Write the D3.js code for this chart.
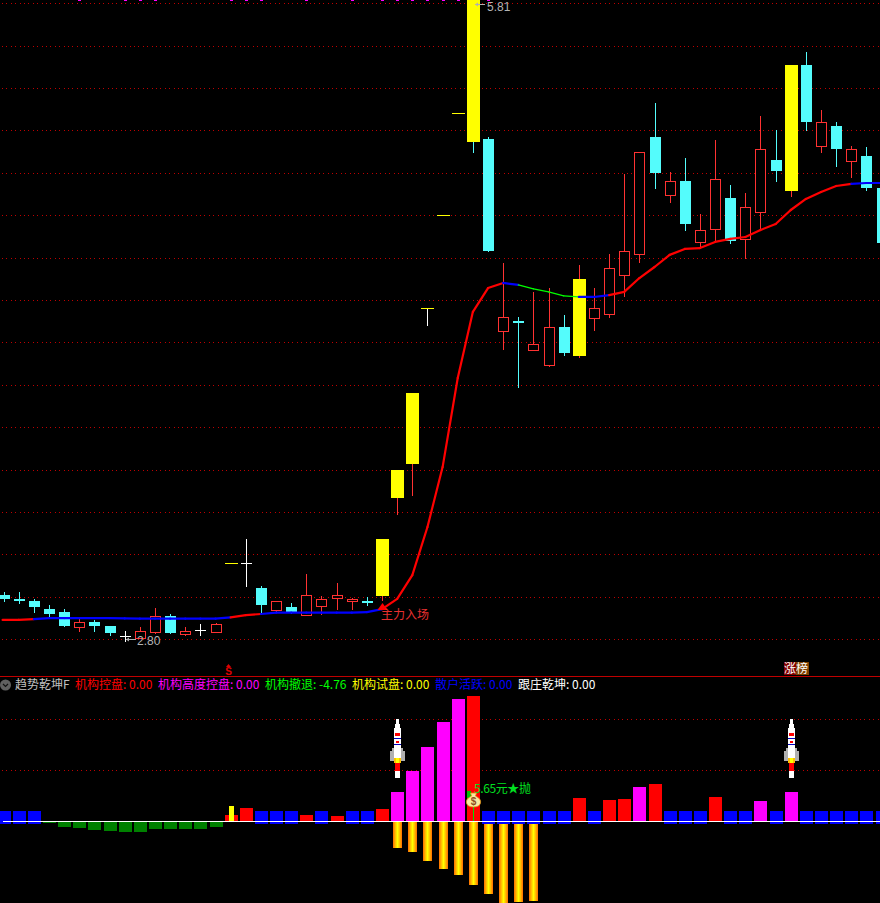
<!DOCTYPE html>
<html><head><meta charset="utf-8">
<style>
html,body{margin:0;padding:0;background:#000;overflow:hidden}
svg{display:block}
text{font-family:"Noto Sans CJK SC","Noto Sans",sans-serif;font-size:12px;font-weight:400}
.num{font-family:"Liberation Sans",Roboto,sans-serif;font-weight:400}
</style>
<script src="https://cdnjs.cloudflare.com/ajax/libs/d3/7.8.5/d3.min.js"></script>
</head><body>
<svg id="c" width="880" height="903"></svg>
<script>
// r=red hollow, c=cyan, y=yellow solid, Y=yellow with cyan wick, w=white doji, d=limit dash, t=T bar
const kinds = "c c c c c r c c w r r c r w r d w c r c r r r r c y y y t d d Y c r c r r c y r r r r c r c r r c r r c y c r c r c c".split(" ");
const opens = [3.016,2.998,2.988,2.951,2.936,2.866,2.889,2.871,2.824,2.815,2.842,2.918,2.833,2.852,2.842,3.167,3.167,3.049,2.946,2.960,2.922,2.965,3.002,2.988,2.988,3.012,3.473,3.633,4.366,4.804,5.284,5.147,5.161,4.258,4.305,4.169,4.098,4.277,4.141,4.319,4.338,4.522,4.620,5.171,4.898,4.964,4.677,4.738,4.884,4.691,4.818,5.062,4.917,5.509,5.128,5.222,5.058,5.081,4.931];
const closes = [2.998,2.988,2.960,2.927,2.871,2.889,2.871,2.838,2.824,2.847,2.918,2.838,2.847,2.852,2.880,3.167,3.167,2.969,2.988,2.932,3.016,2.998,3.016,2.998,2.979,3.280,3.604,3.967,4.366,4.804,5.284,5.810,4.634,4.324,4.296,4.197,4.277,4.155,4.503,4.366,4.555,4.634,5.100,5.001,4.964,4.761,4.733,4.973,4.681,4.841,5.114,5.011,5.509,5.241,5.241,5.114,5.114,4.931,4.672];
const highs = [3.030,3.030,2.998,2.969,2.951,2.903,2.899,2.871,2.847,2.866,2.955,2.927,2.866,2.880,2.885,3.167,3.280,3.059,2.988,2.979,3.115,3.012,3.073,3.002,3.007,3.280,3.604,3.967,4.366,4.804,5.284,5.810,5.171,4.578,4.324,4.442,4.460,4.333,4.569,4.460,4.620,4.997,5.100,5.331,5.006,5.072,4.808,5.157,4.945,4.907,5.269,5.204,5.509,5.570,5.298,5.241,5.128,5.124,4.931];
const lows = [2.990,2.979,2.936,2.918,2.871,2.847,2.847,2.828,2.800,2.814,2.838,2.838,2.828,2.828,2.842,3.167,3.059,2.936,2.936,2.932,2.922,2.927,2.951,2.951,2.969,2.993,3.397,3.487,4.286,4.804,5.284,5.100,4.634,4.173,3.995,4.169,4.094,4.145,4.136,4.263,4.324,4.423,4.583,4.931,4.865,4.733,4.653,4.677,4.672,4.602,4.738,4.964,4.893,5.204,5.100,5.034,4.983,4.921,4.672];
const trend = [2.899,2.899,2.903,2.908,2.908,2.908,2.908,2.908,2.906,2.905,2.905,2.905,2.905,2.905,2.905,2.911,2.922,2.927,2.933,2.933,2.933,2.933,2.933,2.933,2.936,2.950,2.998,3.110,3.336,3.618,4.037,4.348,4.460,4.484,4.475,4.456,4.442,4.423,4.418,4.418,4.427,4.442,4.507,4.559,4.616,4.644,4.648,4.677,4.691,4.700,4.733,4.761,4.827,4.879,4.912,4.940,4.950,4.954,4.954];
// trend segment colour, one per segment i -> i+1
const trendKinds = "rrbbbbbbbbbbbbbrrbbbbbbbbrrrrrrrrbggggbbrrrrrrrrrrrrrrrrbb".split("").slice(0,58);
const gridPrices = [2.808,3.007,3.207,3.406,3.606,3.805,4.004,4.204,4.403,4.603,4.802,5.001,5.201,5.400,5.600,5.799];
const topMarks = [5,8,9,10,15,16,17,20,23,25,26,27,28,29,30,31,32];

const histKinds = "b b b g g g g g g g g g g g g r r b b b r b r b b r m m m m m r b b b b b b r b r r m r b b b r b b m b m b b b b b b".split(" ");
const histValues = [2,2,2,-0.33,-1.1,-1.3,-1.7,-1.9,-2.1,-2.1,-1.5,-1.5,-1.5,-1.5,-1.1,1.2,2.6,2,2,2,1.2,2,1.0,2,2,2.4,5.7,9.9,14.6,19.5,24.0,24.6,2,2,2,2,2,2,4.6,2,4.2,4.4,6.7,7.3,2,2,2,4.8,2,2,4.0,2,5.7,2,2,2,2,2,2];
const goldIdx = [26,27,28,29,30,31,32,33,34,35];
const goldValues = [-5.2,-6.0,-7.8,-9.4,-10.5,-12.5,-14.3,-16,-15.8,-15.6];
const testIdx = 15, testValue = 3.0;
const lowerGrid = [10,20];
const rocketIdx = [26,52];

const legendNames = ["机构控盘","机构高度控盘","机构撤退","机构试盘","散户活跃","跟庄乾坤"];
const legendValues = ["0.00","0.00","-4.76","0.00","0.00","0.00"];
const legendColors = ["#ff0000","#ff00ff","#00ff00","#ffff00","#0000ff","#ffffff"];
const indicatorName = "趋势乾坤F";
const legendX = [75,158,265,352,435,518];

const RED="#ff3232", CYAN="#54fcfc", YEL="#ffff00", GRID="#c00000";
const svg=d3.select("#c");
svg.append("rect").attr("width",880).attr("height",903).attr("fill","#000");
const x=d3.scaleLinear().domain([0,58]).range([3.6,881.6]);
const y=d3.scaleLinear().domain([2.80,5.81]).range([641,1]);
const yl=d3.scaleLinear().domain([-16,24]).range([902.9,698.9]);
const px=v=>Math.round(v)+0.5;
const crisp=svg.append("g").attr("shape-rendering","crispEdges");

// grids
crisp.selectAll(".g").data(gridPrices).join("line")
 .attr("x1",2).attr("x2",880).attr("y1",d=>px(y(d))).attr("y2",d=>px(y(d)))
 .attr("stroke",GRID).attr("stroke-dasharray","1 3.4");
crisp.selectAll(".lg").data(lowerGrid).join("line").attr("class","lg")
 .attr("x1",2).attr("x2",880).attr("y1",d=>px(yl(d))).attr("y2",d=>px(yl(d)))
 .attr("stroke",GRID).attr("stroke-dasharray","1 3.4");

// top marks
crisp.selectAll(".tm").data(topMarks).join("rect").attr("class","tm")
 .attr("x",d=>Math.round(x(d))-1).attr("y",0).attr("width",3).attr("height",1).attr("fill","#ff00ff");

// candles
const rows=kinds.map((k,i)=>({k,i,o:opens[i],c:closes[i],h:highs[i],l:lows[i]}));
const wickCol=k=>({r:RED,y:RED,c:CYAN,Y:CYAN,w:"#fff",t:"#fff",d:YEL})[k];
const cg=crisp.append("g");
rows.filter(d=>d.k!=="d").forEach(d=>{
  const cx=Math.round(x(d.i));
  cg.append("line").attr("x1",cx+.5).attr("x2",cx+.5).attr("y1",Math.round(y(d.h))).attr("y2",Math.round(y(d.l))+1).attr("stroke",wickCol(d.k));
  const top=Math.round(y(Math.max(d.o,d.c))), bot=Math.round(y(Math.min(d.o,d.c)));
  if(d.k==="r"){
    cg.append("rect").attr("x",cx-5+.5).attr("y",top+.5).attr("width",10).attr("height",Math.max(bot-top,1)).attr("fill","#000").attr("stroke",RED);
  } else if(d.k==="c"){
    cg.append("rect").attr("x",cx-5).attr("y",top).attr("width",11).attr("height",Math.max(bot-top,2)).attr("fill",CYAN);
  } else if(d.k==="y"||d.k==="Y"){
    cg.append("rect").attr("x",cx-6).attr("y",top-(d.k==="Y"?1:0)).attr("width",13).attr("height",bot-top+(d.k==="Y"?1:0)).attr("fill",YEL);
  } else if(d.k==="w"){
    cg.append("rect").attr("x",cx-5).attr("y",top).attr("width",11).attr("height",1).attr("fill","#fff");
  } else if(d.k==="t"){
    cg.append("rect").attr("x",cx-6).attr("y",top).attr("width",13).attr("height",1).attr("fill",YEL);
  }
});
rows.filter(d=>d.k==="d").forEach(d=>{
  const cx=Math.round(x(d.i));
  cg.append("rect").attr("x",cx-6).attr("y",Math.round(y(d.c))).attr("width",13).attr("height",1).attr("fill",YEL);
});

// trend line, drawn per segment
const trCol={r:"#ff0000",b:"#0000ff",g:"#00ff00"};
const trG=svg.append("g");
trendKinds.forEach((k,i)=>{
  trG.append("line").attr("x1",x(i)-(i===0?1:0)).attr("y1",y(trend[i])).attr("x2",x(i+1)).attr("y2",y(trend[i+1]))
   .attr("stroke",trCol[k]).attr("stroke-width",k==="g"?1.2:2.2).attr("stroke-linecap","round");
});

// entry arrow + labels upper
const ax=Math.round(x(25))+.5;
svg.append("path").attr("d",`M${ax},603 l5,7 h-10 Z`).attr("fill","#ff0000");
svg.append("text").attr("x",381).attr("y",619).attr("fill","#e83030").text("主力入场");

function priceTag(i,p,label,tx,ty,ax1,ax2,ay){
  svg.append("line").attr("x1",ax1).attr("x2",ax2).attr("y1",ay).attr("y2",ay).attr("stroke","#b0b0b0").attr("shape-rendering","crispEdges");
  svg.append("path").attr("d",`M${ax1},${ay} l3,-2 v4 Z`).attr("fill","#b0b0b0");
  svg.append("text").attr("class","num").attr("x",tx).attr("y",ty).attr("fill","#b4b4b4").text(label);
}
priceTag(8,2.80,"2.80",137,645,126,136,639.5);
priceTag(31,5.81,"5.81",487,11,475,485,4.5);

// lower pane
const defs=svg.append("defs");
const gr=defs.append("linearGradient").attr("id","gold");
[[0,"#ff6a00"],[.3,"#ffc800"],[.5,"#ffff00"],[.7,"#ffc800"],[1,"#ff6a00"]].forEach(s=>gr.append("stop").attr("offset",s[0]).attr("stop-color",s[1]));
const lower=svg.append("g").attr("shape-rendering","crispEdges");
lower.selectAll(".gold").data(goldIdx).join("rect").attr("class","gold")
 .attr("x",d=>Math.round(x(d))-4).attr("width",9)
 .attr("y",yl(0)).attr("height",(d,i)=>yl(goldValues[i])-yl(0)).attr("fill","url(#gold)");
const hCol={b:"#0000ff",g:"#008000",r:"#ff0000",m:"#ff00ff"};
lower.selectAll(".h").data(histValues).join("rect").attr("class","h")
 .attr("x",(d,i)=>Math.round(x(i))-6).attr("width",13)
 .attr("y",(d,i)=>histKinds[i]==="g"?yl(0):yl(d))
 .attr("height",(d,i)=>histKinds[i]==="g"?yl(d)-yl(0):(histKinds[i]==="b"?yl(-0.5)-yl(d):yl(0)-yl(d)))
 .attr("fill",(d,i)=>hCol[histKinds[i]]);
lower.append("rect").attr("x",Math.round(x(testIdx))-2).attr("width",5).attr("y",yl(testValue)).attr("height",yl(0)-yl(testValue)).attr("fill",YEL);
lower.append("line").attr("x1",3).attr("x2",880).attr("y1",821.5).attr("y2",821.5).attr("stroke","#fff");

// rockets
function rocket(i){
  const cx=Math.round(x(i))+.5, g=lower.append("g");
  const r=(dx,y0,w,h,f)=>g.append("rect").attr("x",cx+dx).attr("y",y0).attr("width",w).attr("height",h).attr("fill",f);
  r(-7.5,751,15,10,"#b0b0b0");r(-5.5,748,11,3,"#b0b0b0");
  r(-1.5,719,3,5,"#fff");r(-2.5,724,5,4,"#fff");
  r(-3.5,728,7,33,"#fff");
  r(-2.5,733,5,3,"#ff0000");r(-3.5,738,7,1,"#0000c0");
  r(-1.5,741,3,2,"#ff0000");r(-3.5,744,7,1,"#0000c0");
  r(-3.5,758,7,5,"#ffc000");r(-1.5,758,3,7,"#ffff00");
  r(-2.5,763,5,8,"#ff0000");r(-2.5,771,5,7,"#fff");
}
rocketIdx.forEach(rocket);

// sell label with money bag
const bx=Math.round(x(31))+.5;
lower.append("rect").attr("x",bx-.5).attr("y",806).attr("width",1).attr("height",15).attr("fill","#00e000");
lower.append("rect").attr("x",bx-7).attr("y",791).attr("width",4).attr("height",7).attr("fill","#00c000");
svg.append("path").attr("d",`M${bx-3},793 h6 l-1,3 q6,3 5,7 q-1,4 -7,4 q-6,0 -7,-4 q-1,-4 5,-7 Z`).attr("fill","#f8e8a0").attr("stroke","#e09010").attr("stroke-width",.8);
svg.append("text").attr("class","num").attr("x",bx).attr("y",805).attr("text-anchor","middle").attr("style","font-size:10px;font-weight:700").attr("fill","#905020").text("$");
svg.append("text").attr("x",474).attr("y",793).attr("fill","#00e020").attr("textLength",57).text("5.65元★抛");

// separator + legend row
crisp.append("line").attr("x1",0).attr("x2",880).attr("y1",676.5).attr("y2",676.5).attr("stroke","#c00000");
svg.append("circle").attr("cx",5.5).attr("cy",685).attr("r",5.5).attr("fill","#606060");
svg.append("path").attr("d","M3,684 l2.5,2.5 l2.5,-2.5").attr("fill","none").attr("stroke","#111").attr("stroke-width",1.2);
svg.append("text").attr("x",15).attr("y",689).attr("fill","#c0c0c0").text(indicatorName);
legendNames.forEach((n,i)=>{
  svg.append("text").attr("x",legendX[i]).attr("y",689).attr("fill",legendColors[i]).text(n+": "+legendValues[i]);
});

// limit-up tag
lower.append("rect").attr("x",784).attr("y",662).attr("width",12).attr("height",13).attr("fill","#800000");
lower.append("rect").attr("x",796).attr("y",662).attr("width",13).attr("height",13).attr("fill","#804000");
svg.append("text").attr("x",784).attr("y",673).attr("fill","#fff").text("涨榜");

// small $ signal
svg.append("path").attr("d","M228.5,664 l2.5,3 h-5 Z").attr("fill","#e00000");
svg.append("text").attr("class","num").attr("x",228.5).attr("y",674.5).attr("text-anchor","middle").attr("style","font-size:10px;font-weight:700").attr("fill","#e00000").text("S");
</script>
</body></html>
